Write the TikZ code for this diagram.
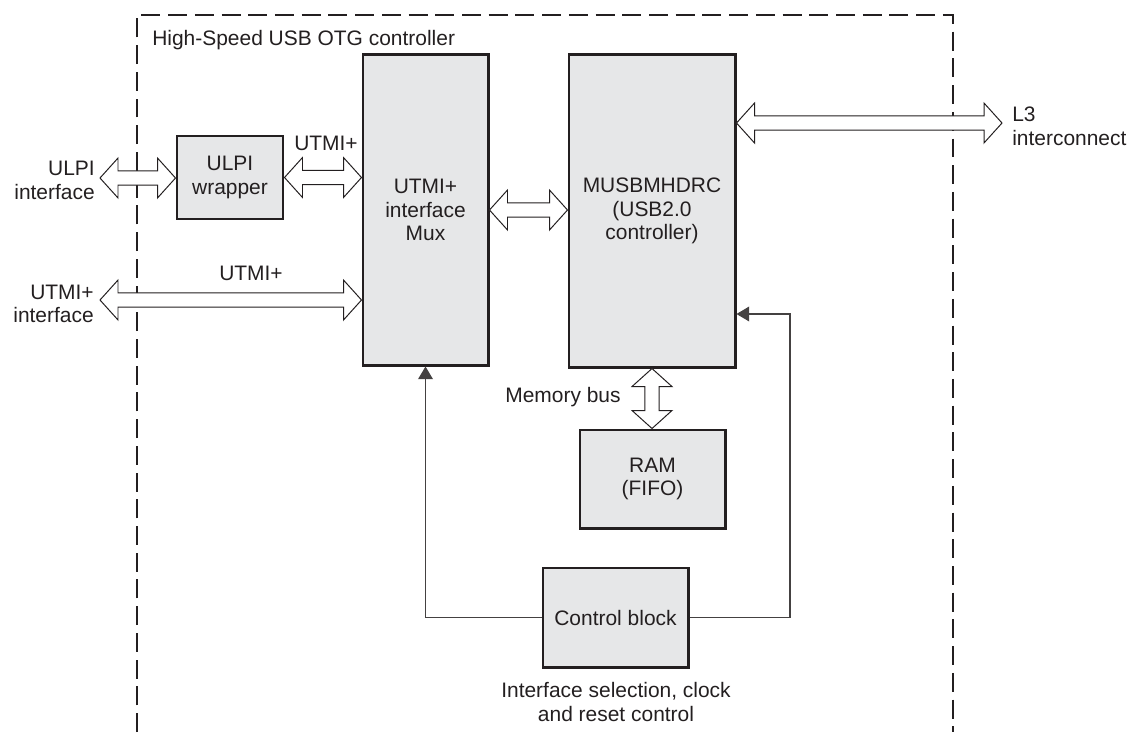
\documentclass[tikz,border=0pt]{standalone}
\usepackage{fontspec}
\setmainfont{Liberation Sans}
\usetikzlibrary{calc,arrows.meta}

\definecolor{boxgray}{HTML}{E6E7E8}
\definecolor{ink}{HTML}{231F20}

\tikzset{
  block/.style={draw=ink, line width=2.1pt, fill=boxgray, align=center, text=ink},
  bus/.style={draw=ink, line width=0.7pt, fill=white, line join=miter},
  ctl/.style={draw=ink!85, line width=0.75pt, -{Triangle[length=9pt,width=10.5pt]}},
  frame/.style={draw=ink, line width=1.7pt, dash pattern=on 13.5pt off 5.5pt},
  lbl/.style={text=ink, inner sep=0pt}
}

% hollow double arrow: head length, head and shaft half widths
\def\busheadlen{12.8pt}
\def\busheadwid{14.2pt}
\def\busshaftwid{5pt}
\newcommand{\hbus}[2]{%
  \draw[bus] let \p1=#1, \p2=#2 in
    (\x1,\y1) -- (\x1+\busheadlen,\y1+\busheadwid) -- (\x1+\busheadlen,\y1+\busshaftwid)
    -- (\x2-\busheadlen,\y1+\busshaftwid) -- (\x2-\busheadlen,\y1+\busheadwid) -- (\x2,\y1)
    -- (\x2-\busheadlen,\y1-\busheadwid) -- (\x2-\busheadlen,\y1-\busshaftwid)
    -- (\x1+\busheadlen,\y1-\busshaftwid) -- (\x1+\busheadlen,\y1-\busheadwid) -- cycle;}
\newcommand{\vbus}[2]{%
  \draw[bus] let \p1=#1, \p2=#2 in
    (\x1,\y1) -- (\x1+\busheadwid,\y1-\busheadlen) -- (\x1+\busshaftwid,\y1-\busheadlen)
    -- (\x1+\busshaftwid,\y2+\busheadlen) -- (\x1+\busheadwid,\y2+\busheadlen) -- (\x1,\y2)
    -- (\x1-\busheadwid,\y2+\busheadlen) -- (\x1-\busshaftwid,\y2+\busheadlen)
    -- (\x1-\busshaftwid,\y1-\busheadlen) -- (\x1-\busheadwid,\y1-\busheadlen) -- cycle;}

\begin{document}
\begin{tikzpicture}[x=0.025cm, y=-0.025cm, font=\fontsize{14.9}{16.8}\selectfont]
    \useasboundingbox (0,0) rectangle (1129,732);

    % Controller frame
    \draw[frame] (137,732) -- (137,15) -- (953,15) -- (953,732);
    \node[lbl, anchor=base west] (title) at (152,45) {High-Speed USB OTG controller};

    % Blocks
    \node[block, minimum width=2.65cm, minimum height=2.075cm] (wrap) at (230,177.5) {ULPI\\wrapper};
    \node[block, minimum width=3.125cm, minimum height=7.75cm] (mux) at (425.5,210) {UTMI+\\interface\\Mux};
    \node[block, minimum width=4.15cm, minimum height=7.8cm] (musb) at (652,211) {MUSBMHDRC\\(USB2.0\\controller)};
    \node[block, minimum width=3.625cm, minimum height=2.45cm] (ram) at (652.5,479) {RAM\\(FIFO)};
    \node[block, minimum width=3.625cm, minimum height=2.475cm] (ctrl) at (615.5,617.5) {Control block};

    % Outside ends
    \coordinate (ulpiend) at (100,178);
    \coordinate (utmiend) at (100,300);
    \coordinate (l3end) at (1002,123);
    \node[lbl, anchor=east, align=right] (ulpi) at (95,180.5) {ULPI\\interface};
    \node[lbl, anchor=east, align=right] (utmi) at (94,304) {UTMI+\\interface};
    \node[lbl, anchor=west, align=left] (l3) at (1012,126) {L3\\interconnect};

    % Buses
    \hbus{(ulpiend)}{(wrap.west)}
    \hbus{(wrap.east)}{(mux.west)}
    \hbus{(utmiend)}{(mux.west)}
    \hbus{(mux.east)}{(musb.west)}
    \hbus{(musb.east |- l3end)}{(l3end)}
    \vbus{(musb.south)}{(ram.north)}

    % Bus labels
    \node[lbl] (utmiwrap) at (326,143) {UTMI+};
    \node[lbl] (utmilong) at (251,273) {UTMI+};
    \node[lbl] (membus) at (563,397) {Memory bus};

    % Control lines
    \coordinate (fb) at (790,314);
    \draw[ctl] (ctrl.west) -| (mux.south);
    \draw[ctl] (ctrl.east) -| (fb) -- (fb -| musb.east);
    \node[lbl, align=center] (ctrlnote) at (616,702) {Interface selection, clock\\and reset control};
\end{tikzpicture}
\end{document}
